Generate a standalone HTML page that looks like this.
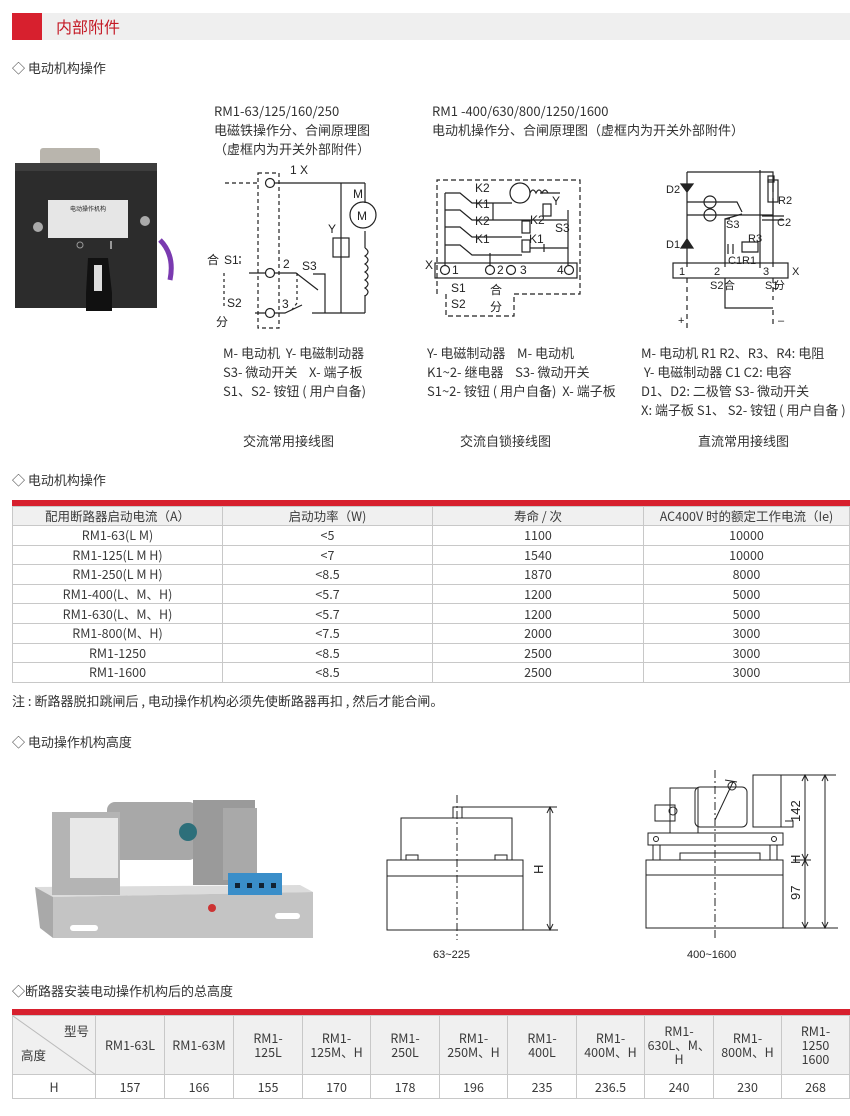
<!DOCTYPE html>
<html><head><meta charset="utf-8">
<style>
*{margin:0;padding:0;box-sizing:border-box}
body{width:850px;height:1116px;background:#fff;position:relative;overflow:hidden;font-family:"Liberation Sans","Noto Sans CJK SC",sans-serif;color:#333}
.a{position:absolute;white-space:nowrap}
.t{font-family:"Noto Sans CJK SC",sans-serif;font-size:13px;color:#333;line-height:19px}
.sec{font-family:"Noto Sans CJK SC",sans-serif;font-size:13px;color:#333}
table{position:absolute;border-collapse:collapse;font-family:"Noto Sans CJK SC",sans-serif;font-size:12.5px;color:#3a3a3a}
td{border:1px solid #c8c8c8;text-align:center;padding:0;line-height:14px}
</style></head><body>
<div class="a" style="left:12px;top:13px;width:838px;height:27px;background:#efefef"></div>
<div class="a" style="left:12px;top:13px;width:30px;height:27px;background:#d7202e"></div>
<div class="a" style="left:56px;top:14px;font-family:'Noto Sans CJK SC',sans-serif;font-size:16px;color:#c41a26;line-height:25px">内部附件</div>

<div class="a sec" style="left:12px;top:58px">◇ 电动机构操作</div>

<div class="a t" style="left:214px;top:101px">RM1-63/125/160/250<br>电磁铁操作分、合闸原理图<br>（虚框内为开关外部附件）</div>
<div class="a t" style="left:432px;top:101px">RM1 -400/630/800/1250/1600<br>电动机操作分、合闸原理图（虚框内为开关外部附件）</div>

<!-- photo 1 -->
<svg class="a" style="left:0;top:140px" width="200" height="190">
<rect x="40" y="8" width="60" height="18" fill="#b9b5ad" rx="3"/>
<rect x="15" y="23" width="142" height="145" fill="#2c2c2c"/>
<rect x="15" y="23" width="142" height="8" fill="#3d3d3d"/>
<rect x="48" y="60" width="80" height="38" fill="#e6e6e6"/>
<text x="88" y="71" font-size="6" text-anchor="middle" fill="#222">电动操作机构</text>
<circle cx="38" cy="87" r="5" fill="#aaa"/><circle cx="145" cy="81" r="5" fill="#aaa"/>
<circle cx="80" cy="105" r="3" fill="none" stroke="#999"/><rect x="110" y="101" width="2" height="8" fill="#999"/>
<path d="M88 118 h20 l4 35 v18 h-26 v-18z" fill="#111"/>
<rect x="94" y="125" width="8" height="26" fill="#ddd"/>
<path d="M160 100 q15 15 10 40" stroke="#7a3ab0" stroke-width="5" fill="none"/>
</svg>

<!-- diagram 1 -->
<svg class="a" style="left:200px;top:160px" width="400" height="180" font-family="Liberation Sans" font-size="12" fill="none" stroke="#222" stroke-width="1.2">
<rect x="58" y="13" width="21" height="155" stroke-dasharray="4,3"/>
<path d="M25 23 h33" stroke-dasharray="4,3"/>
<circle cx="70" cy="23" r="4.5"/><circle cx="70" cy="113" r="4.5"/><circle cx="70" cy="153" r="4.5"/>
<path d="M75 23 h90 M141 23 v130 M165 23 v20 M165 71 v17 M165 135 v18 M112 153 h53 M49 113 h16 M75 113 h21 l22 17 M113 114 h12 v39 M55 153 h10 M75 153 h10 l17 -8"/>
<path d="M165 88 q6 4 0 8 q6 4 0 8 q6 4 0 8 q6 4 0 8 q6 4 0 8 q6 4 0 8"/>
<rect x="133" y="78" width="16" height="19"/>
<circle cx="163" cy="55" r="13"/>
<path d="M97 113 v30 l-6 8 M40 104 v-8 M24 113 v34" stroke-dasharray="3,3"/>
<g fill="#222" stroke="none">
<text x="90" y="14">1 X</text><text x="153" y="38">M</text><text x="157" y="60">M</text><text x="128" y="73">Y</text>
<text x="83" y="108">2</text><text x="102" y="110">S3</text><text x="82" y="148">3</text>
<text x="7" y="104" font-family="Noto Sans CJK SC">合</text><text x="24" y="104">S1</text>
<text x="27" y="147">S2</text><text x="16" y="166" font-family="Noto Sans CJK SC">分</text>
</g>
</svg>

<!-- diagram 2 -->
<svg class="a" style="left:200px;top:160px" width="400" height="180" font-family="Liberation Sans" font-size="12" fill="none" stroke="#222" stroke-width="1.2">
<path d="M237 134 v-114 h143 v114 h-66 v22 h-68 v-22" stroke-dasharray="5,3"/>
<rect x="235" y="103" width="142" height="15"/>
<circle cx="245" cy="110" r="4.5"/><circle cx="290" cy="110" r="4.5"/><circle cx="311" cy="110" r="4.5"/><circle cx="369" cy="110" r="4.5"/>
<path d="M245 33 v72 M245 33 h15 l12 10 h40 M245 50 h15 l12 10 h95 M245 67 h15 l12 10 h50 M245 85 h15 l12 10 h50 M368 50 v55 M293 43 v17 M290 93 v12 M340 33 h20"/>
<circle cx="320" cy="33" r="10"/><path d="M330 33 q3 -6 6 0 q3 -6 6 0 q3 -6 6 0"/>
<rect x="343" y="44" width="8" height="12"/><rect x="322" y="61" width="8" height="12"/><rect x="322" y="80" width="8" height="12"/>
<path d="M330 88 h14 M344 84 v8 M344 88 h24"/>
<g fill="#222" stroke="none">
<text x="275" y="32">K2</text><text x="275" y="48">K1</text><text x="275" y="65">K2</text><text x="275" y="83">K1</text>
<text x="352" y="45">Y</text><text x="330" y="64">K2</text><text x="355" y="72">S3</text><text x="329" y="83">K1</text>
<text x="225" y="109">X</text><text x="252" y="114">1</text><text x="297" y="114">2</text><text x="320" y="114">3</text><text x="357" y="114">4</text>
<text x="251" y="132">S1</text><text x="251" y="148">S2</text>
<text x="290" y="134" font-family="Noto Sans CJK SC">合</text><text x="290" y="151" font-family="Noto Sans CJK SC">分</text>
</g>
</svg>

<!-- diagram 3 -->
<svg class="a" style="left:600px;top:160px" width="250" height="180" font-family="Liberation Sans" font-size="11" fill="none" stroke="#222" stroke-width="1.2">
<path d="M87 12 h86 v95 M87 12 v95 M87 42 h50 l5 10 M87 55 h55 M125 118 v30 h48" />
<path d="M87 118 v50 M173 118 v22 M173 150 v18" stroke-dasharray="5,4"/>
<path d="M81 24 h12 l-6 8z M81 88 h12 l-6 -9z" fill="#222"/>
<circle cx="110" cy="42" r="6"/><circle cx="110" cy="55" r="6"/>
<rect x="73" y="103" width="115" height="15"/>
<path d="M125 107 v-48 h5 M125 59 l17 -5 M142 55 h31 M160 10 v98 M173 20 v12 M173 38 v18"/>
<rect x="168" y="20" width="10" height="22"/><rect x="168" y="16" width="6" height="6"/>
<path d="M162 56 h22 M162 60 h22 M128 84 v10 M133 84 v10 M142 82 h16 v10 h-16z"/>
<g fill="#222" stroke="none">
<text x="66" y="33">D2</text><text x="66" y="88">D1</text><text x="178" y="44">R2</text><text x="177" y="66">C2</text>
<text x="126" y="68">S3</text><text x="148" y="82">R3</text><text x="128" y="104">C1R1</text>
<text x="79" y="115">1</text><text x="114" y="115">2</text><text x="163" y="115">3</text><text x="192" y="115">X</text>
<text x="110" y="129">S2</text><text x="165" y="129">S1</text><text x="124" y="129" font-family="Noto Sans CJK SC">合</text><text x="174" y="129" font-family="Noto Sans CJK SC">分</text>
<text x="78" y="164">+</text><text x="178" y="164">–</text>
</g>
</svg>

<div class="a t" style="left:223px;top:343px">M- 电动机&nbsp; Y- 电磁制动器<br>S3- 微动开关&nbsp;&nbsp;&nbsp; X- 端子板<br>S1、S2- 铵钮 ( 用户自备)</div>
<div class="a t" style="left:427px;top:343px">Y- 电磁制动器&nbsp;&nbsp;&nbsp; M- 电动机<br>K1~2- 继电器&nbsp;&nbsp;&nbsp; S3- 微动开关<br>S1~2- 铵钮 ( 用户自备)&nbsp; X- 端子板</div>
<div class="a t" style="left:641px;top:343px">M- 电动机 R1 R2、R3、R4: 电阻<br>&nbsp;Y- 电磁制动器 C1 C2: 电容<br>D1、D2: 二极管 S3- 微动开关<br>X: 端子板 S1、 S2- 铵钮 ( 用户自备 )</div>
<div class="a t" style="left:243px;top:431px">交流常用接线图</div>
<div class="a t" style="left:460px;top:431px">交流自锁接线图</div>
<div class="a t" style="left:698px;top:431px">直流常用接线图</div>

<div class="a sec" style="left:12px;top:470px">◇ 电动机构操作</div>
<div class="a" style="left:12px;top:500px;width:838px;height:6px;background:#d7202e"></div>
<table style="left:12px;top:506px;width:838px">
<tr style="height:19px;background:#f0f0f0"><td style="width:210px">配用断路器启动电流（A）</td><td style="width:210px">启动功率（W)</td><td style="width:211px">寿命 / 次</td><td>AC400V 时的额定工作电流（Ie)</td></tr>
<tr style="height:19.6px"><td>RM1-63(L M)</td><td>&lt;5</td><td>1100</td><td>10000</td></tr>
<tr style="height:19.6px"><td>RM1-125(L M H)</td><td>&lt;7</td><td>1540</td><td>10000</td></tr>
<tr style="height:19.6px"><td>RM1-250(L M H)</td><td>&lt;8.5</td><td>1870</td><td>8000</td></tr>
<tr style="height:19.6px"><td>RM1-400(L、M、H)</td><td>&lt;5.7</td><td>1200</td><td>5000</td></tr>
<tr style="height:19.6px"><td>RM1-630(L、M、H)</td><td>&lt;5.7</td><td>1200</td><td>5000</td></tr>
<tr style="height:19.6px"><td>RM1-800(M、H)</td><td>&lt;7.5</td><td>2000</td><td>3000</td></tr>
<tr style="height:19.6px"><td>RM1-1250</td><td>&lt;8.5</td><td>2500</td><td>3000</td></tr>
<tr style="height:19.6px"><td>RM1-1600</td><td>&lt;8.5</td><td>2500</td><td>3000</td></tr>
</table>
<div class="a sec" style="left:12px;top:691px">注 : 断路器脱扣跳闸后 , 电动操作机构必须先使断路器再扣 , 然后才能合闸。</div>

<div class="a sec" style="left:12px;top:732px">◇ 电动操作机构高度</div>

<!-- photo 2 -->
<svg class="a" style="left:20px;top:760px" width="310" height="200">
<path d="M15 127 L280 125 L293 132 L33 137 Z" fill="#dcdcdc"/>
<path d="M15 127 L33 137 L33 178 L20 168 Z" fill="#a9a9a9"/>
<path d="M33 137 L293 132 L293 178 L33 178 Z" fill="#c4c4c4"/>
<rect x="50" y="165" width="28" height="6" rx="3" fill="#fff"/><rect x="255" y="153" width="25" height="6" rx="3" fill="#fff"/>
<rect x="87" y="42" width="90" height="58" rx="8" fill="#a8a8a8"/>
<rect x="32" y="52" width="68" height="83" fill="#b4b4b4"/>
<rect x="50" y="58" width="48" height="60" fill="#e8e8e8"/>
<rect x="173" y="40" width="62" height="85" fill="#9a9a9a"/>
<rect x="203" y="48" width="34" height="72" fill="#a9a9a9"/>
<circle cx="168" cy="72" r="9" fill="#2d6f7a"/>
<rect x="208" y="113" width="54" height="22" fill="#3a8ec9"/>
<g fill="#123"><rect x="215" y="123" width="5" height="5"/><rect x="227" y="123" width="5" height="5"/><rect x="239" y="123" width="5" height="5"/><rect x="251" y="123" width="5" height="5"/></g>
<circle cx="192" cy="148" r="4" fill="#c33"/>
</svg>

<!-- drawings -->
<svg class="a" style="left:370px;top:760px" width="480" height="210" fill="none" stroke="#222" stroke-width="1">
<rect x="17" y="100" width="136" height="70"/><path d="M17 116 h136"/>
<rect x="31" y="58" width="111" height="42"/><rect x="83" y="47" width="9" height="11"/>
<rect x="36" y="95" width="12" height="5"/><rect x="125" y="95" width="12" height="5"/>
<path d="M87 35 v145" stroke-dasharray="8,3,2,3"/>
<path d="M92 47 h95 M153 170 h35 M180 47 v123 M177 53 l3 -6 l3 6 M177 164 l3 6 l3 -6"/>
<text x="0" y="0" transform="translate(173,114) rotate(-90)" font-family="Liberation Sans" font-size="13" fill="#222" stroke="none">H</text>
<text x="63" y="198" font-family="Liberation Sans" font-size="11" fill="#222" stroke="none">63~225</text>
<rect x="276" y="100" width="137" height="68"/><path d="M276 115 h137"/>
<path d="M283 100 v-15 h7 v15 M400 100 v-15 h7 v15 M310 100 v-7 h80 v7"/>
<rect x="278" y="73" width="135" height="12"/>
<circle cx="286" cy="79" r="2.5"/><circle cx="404" cy="79" r="2.5"/>
<rect x="300" y="28" width="28" height="45"/><rect x="285" y="45" width="20" height="16"/><circle cx="303" cy="51" r="4"/>
<rect x="325" y="27" width="52" height="40" rx="5"/>
<path d="M345 60 l18 -38 M355 20 l12 2"/><circle cx="362" cy="26" r="4"/>
<rect x="383" y="15" width="28" height="52"/><path d="M383 67 h40 v-6 h-8"/>
<path d="M345 10 v170" stroke-dasharray="8,3,2,3"/>
<path d="M411 15 h55 M413 168 h55 M423 100 h18 M435 15 v153 M455 15 v153 M432 21 l3 -6 l3 6 M432 94 l3 6 l3 -6 M432 106 l3 -6 l3 6 M432 162 l3 6 l3 -6 M452 21 l3 -6 l3 6 M452 162 l3 6 l3 -6"/>
<g font-family="Liberation Sans" font-size="13" fill="#222" stroke="none">
<text transform="translate(430,62) rotate(-90)">142</text>
<text transform="translate(430,104) rotate(-90)">H</text>
<text transform="translate(430,140) rotate(-90)">97</text>
<text x="317" y="198" font-size="11">400~1600</text>
</g>
</svg>

<div class="a sec" style="left:12px;top:981px">◇断路器安装电动操作机构后的总高度</div>
<div class="a" style="left:12px;top:1009px;width:838px;height:6px;background:#d7202e"></div>
<table style="left:12px;top:1015px;width:838px">
<tr style="height:59px;background:#f0f0f0">
<td style="width:83px;position:relative;text-align:left"><svg style="position:absolute;left:0;top:0" width="83" height="59"><line x1="0" y1="0" x2="83" y2="59" stroke="#bbb"/></svg><span style="position:absolute;right:6px;top:8px">型号</span><span style="position:absolute;left:8px;top:32px">高度</span></td>
<td style="width:69px">RM1-63L</td><td style="width:69px">RM1-63M</td><td style="width:69px">RM1-<br>125L</td><td style="width:68px">RM1-<br>125M、H</td><td style="width:69px">RM1-<br>250L</td><td style="width:68px">RM1-<br>250M、H</td><td style="width:69px">RM1-<br>400L</td><td style="width:68px">RM1-<br>400M、H</td><td style="width:69px">RM1-<br>630L、M、<br>H</td><td style="width:68px">RM1-<br>800M、H</td><td>RM1-<br>1250<br>1600</td></tr>
<tr style="height:24px"><td>H</td><td>157</td><td>166</td><td>155</td><td>170</td><td>178</td><td>196</td><td>235</td><td>236.5</td><td>240</td><td>230</td><td>268</td></tr>
</table>
</body></html>
